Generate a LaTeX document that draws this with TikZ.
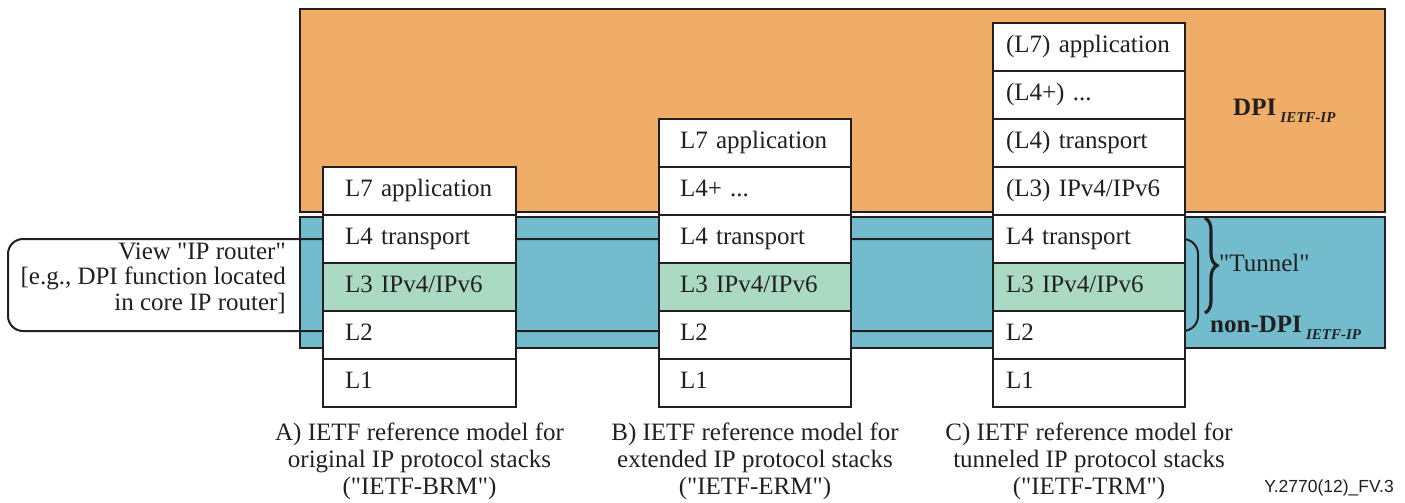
\documentclass[tikz,border=0pt]{standalone}
\usepackage{fontspec}
\setmainfont{Liberation Serif}[Ligatures=TeXOff]
\newfontfamily\labelsans{Liberation Sans}
\usetikzlibrary{decorations.pathreplacing}
\definecolor{dpiorange}{RGB}{240,173,104}
\definecolor{ipblue}{RGB}{114,188,206}
\definecolor{lthree}{RGB}{170,218,196}
\definecolor{linec}{RGB}{35,31,32}
\begin{document}
\begin{tikzpicture}[x=1pt,y=-1pt,
  every node/.style={font=\fontsize{25}{27}\selectfont, text=linec},
  layer/.style={draw=linec, line width=2pt, fill=white, minimum height=48pt,
    inner ysep=0pt, outer sep=0pt, align=left, anchor=north west, execute at begin node=\strut},
  layerA/.style={layer, inner xsep=22pt, text width=149pt},
  layerB/.style={layer, inner xsep=21pt, text width=150pt},
  layerC/.style={layer, inner xsep=13pt, text width=166pt},
  green/.style={fill=lthree},
  caption/.style={align=center, inner sep=0pt, font=\fontsize{25}{27}\selectfont}]
\useasboundingbox (0,0) rectangle (1405,503);
% domains
\draw[line width=2pt, draw=linec, fill=dpiorange] (300,9) rectangle (1385,212);
\draw[line width=2pt, draw=linec, fill=ipblue] (300,217) rectangle (1385,348);
% router view bracket
\draw[line width=2pt, draw=linec, rounded corners=15pt] (8,239) rectangle (1198,331);
% stack A
\node[layerA] (a7) at (323,167) {L7 application};
\node[layerA, anchor=north] (a4) at (a7.south) {L4 transport};
\node[layerA, green, anchor=north] (a3) at (a4.south) {L3 IPv4/IPv6};
\node[layerA, anchor=north] (a2) at (a3.south) {L2};
\node[layerA, anchor=north] (a1) at (a2.south) {L1};
% stack B
\node[layerB] (b7) at (659,119) {L7 application};
\node[layerB, anchor=north] (b5) at (b7.south) {L4+ ...};
\node[layerB, anchor=north] (b4) at (b5.south) {L4 transport};
\node[layerB, green, anchor=north] (b3) at (b4.south) {L3 IPv4/IPv6};
\node[layerB, anchor=north] (b2) at (b3.south) {L2};
\node[layerB, anchor=north] (b1) at (b2.south) {L1};
% stack C
\node[layerC] (c7) at (993,23) {(L7) application};
\node[layerC, anchor=north] (c5) at (c7.south) {(L4+) ...};
\node[layerC, anchor=north] (c4i) at (c5.south) {(L4) transport};
\node[layerC, anchor=north] (c3i) at (c4i.south) {(L3) IPv4/IPv6};
\node[layerC, anchor=north] (c4) at (c3i.south) {L4 transport};
\node[layerC, green, anchor=north] (c3) at (c4.south) {L3 IPv4/IPv6};
\node[layerC, anchor=north] (c2) at (c3.south) {L2};
\node[layerC, anchor=north] (c1) at (c2.south) {L1};
% left label
\node[align=right, inner sep=0pt, anchor=east, font=\fontsize{25}{25.5}\selectfont] (view) at (286,278)
  {View "IP router"\\{[}e.g., DPI function located\\in core IP router{]}};
% domain labels
\node[anchor=base west, inner sep=0pt] (dpi) at (1233,115)
  {\textbf{DPI}\,\raisebox{-7pt}{\fontsize{15}{15}\selectfont\bfseries\itshape IETF-IP}};
\node[anchor=base west, inner sep=0pt] (nondpi) at (1210,332)
  {\textbf{non-DPI}\,\raisebox{-7pt}{\fontsize{15}{15}\selectfont\bfseries\itshape IETF-IP}};
% tunnel brace
\coordinate (brtop) at (1205,218);
\coordinate (brbot) at (1205,313);
\draw[line width=3.2pt, draw=linec, decorate, decoration={brace, amplitude=12pt}] (brtop) -- (brbot);
\node[anchor=base west, inner sep=0pt] (tunnel) at (1219,271) {"Tunnel"};
% captions
\node[caption] (capA) at (a1.south |- 0,461) {A) IETF reference model for\\original IP protocol stacks\\("IETF-BRM")};
\node[caption] (capB) at (b1.south |- 0,461) {B) IETF reference model for\\extended IP protocol stacks\\("IETF-ERM")};
\node[caption] (capC) at (c1.south |- 0,461) {C) IETF reference model for\\tunneled IP protocol stacks\\("IETF-TRM")};
\node[anchor=east, inner sep=0pt, font=\labelsans\fontsize{17.5}{20}\selectfont] (fig) at (1394,488) {Y.2770(12)\_FV.3};
\end{tikzpicture}
\end{document}
